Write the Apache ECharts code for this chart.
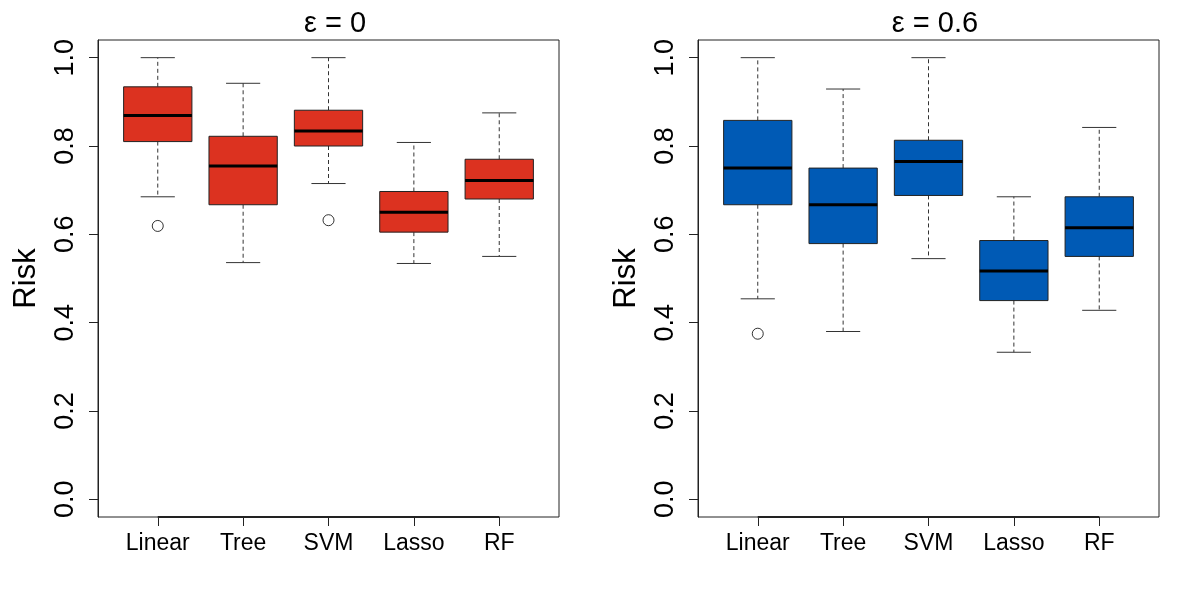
<!DOCTYPE html>
<html>
<head>
    <meta charset="utf-8">
    <title>Risk boxplots</title>
    <script src="https://cdn.jsdelivr.net/npm/echarts@6/dist/echarts.min.js"></script>
    <style>
        html, body { margin: 0; padding: 0; background: #fff; }
        #container { width: 1200px; height: 600px; }
    </style>
</head>
<body>
<div id="container"></div>
<script type="text/javascript">
    // categories and tick labels
    var categories = ['Linear', 'Tree', 'SVM', 'Lasso', 'RF'];
    var yTicks = [0, 0.2, 0.4, 0.6, 0.8, 1.0];
    var panelTitles = ['\u03b5 = 0', '\u03b5 = 0.6'];

    // box stats per method: [lower whisker, Q1, median, Q3, upper whisker]
    var eps0Stats = [
        [0.685, 0.810, 0.869, 0.934, 1.000],
        [0.536, 0.667, 0.755, 0.822, 0.942],
        [0.715, 0.800, 0.834, 0.881, 1.000],
        [0.534, 0.605, 0.650, 0.697, 0.808],
        [0.550, 0.680, 0.722, 0.770, 0.875]
    ];
    var eps06Stats = [
        [0.454, 0.667, 0.750, 0.858, 1.000],
        [0.380, 0.579, 0.667, 0.750, 0.929],
        [0.545, 0.688, 0.765, 0.813, 1.000],
        [0.333, 0.450, 0.517, 0.586, 0.685],
        [0.428, 0.550, 0.615, 0.685, 0.842]
    ];
    // outliers: [category index, value]
    var eps0Outliers = [[0, 0.619], [2, 0.632]];
    var eps06Outliers = [[0, 0.375]];

    var fillColors = ['#DC3220', '#005AB5'];
    var font = 'Liberation Sans, Helvetica, Arial, sans-serif';
    var yMin = -0.04, yMax = 1.04;

    function boxData(stats) {
        return stats.map(function (s, i) {
            return [i + 1].concat(s);
        });
    }
    function outlierData(list) {
        return list.map(function (o) { return [o[0] + 1, o[1]]; });
    }

    function makeRender(fill) {
        return function (params, api) {
            var x = api.value(0);
            var lo = api.value(1), q1 = api.value(2), med = api.value(3),
                q3 = api.value(4), hi = api.value(5);
            var half = 0.4, cap = 0.2;
            function p(a, b) { return api.coord([a, b]); }
            function seg(a, b, style) {
                return { type: 'line', shape: { x1: a[0], y1: a[1], x2: b[0], y2: b[1] }, style: style };
            }
            var dashed = { stroke: '#333', lineWidth: 1, lineDash: [4, 3] };
            var solid = { stroke: '#333', lineWidth: 1 };
            var tl = p(x - half, q3), br = p(x + half, q1);
            var children = [
                seg(p(x, q1), p(x, lo), dashed),
                seg(p(x, q3), p(x, hi), dashed),
                seg(p(x - cap, lo), p(x + cap, lo), solid),
                seg(p(x - cap, hi), p(x + cap, hi), solid),
                { type: 'rect', shape: { x: tl[0], y: tl[1], width: br[0] - tl[0], height: br[1] - tl[1] },
                  style: { fill: fill, stroke: '#222', lineWidth: 1 } },
                seg(p(x - half, med), p(x + half, med), { stroke: '#000', lineWidth: 3 })
            ];
            // R style axis line, drawn only between first and last tick
            if (params.dataIndex === 0) {
                children.push(seg(p(1, yMin), p(categories.length, yMin), { stroke: '#222', lineWidth: 2 }));
            }
            return { type: 'group', children: children };
        };
    }

    var grids = [
        { left: 98, right: 641, top: 40, bottom: 83 },
        { left: 698, right: 41, top: 40, bottom: 83 }
    ];
    var xCenters = [330, 930];

    var option = {
        animation: false,
        backgroundColor: '#fff',
        textStyle: { fontFamily: font },
        title: panelTitles.map(function (t, i) {
            return {
                text: t, left: xCenters[i], top: 4, textAlign: 'center',
                textStyle: { fontFamily: font, fontSize: 29, fontWeight: 'normal', color: '#000' }
            };
        }),
        grid: grids.map(function (g) {
            return { left: g.left, right: g.right, top: g.top, bottom: g.bottom,
                     show: true, borderColor: '#222', borderWidth: 1, backgroundColor: 'transparent' };
        }),
        xAxis: [0, 1].map(function (i) {
            return {
                type: 'value', gridIndex: i, min: 0.3, max: 5.7, position: 'bottom',
                axisLine: { show: false, onZero: false },
                splitLine: { show: false },
                axisTick: { show: true, length: 9, customValues: [1, 2, 3, 4, 5],
                            lineStyle: { color: '#222', width: 1 } },
                axisLabel: {
                    customValues: [1, 2, 3, 4, 5], margin: 15,
                    fontSize: 23, color: '#000', fontFamily: font,
                    formatter: function (v) { return categories[Math.round(v) - 1]; }
                }
            };
        }),
        yAxis: [0, 1].map(function (i) {
            return {
                type: 'value', gridIndex: i, min: yMin, max: yMax, position: 'left',
                name: 'Risk', nameLocation: 'middle', nameGap: 56, nameRotate: 90,
                nameTextStyle: { fontSize: 31, color: '#000', fontFamily: font },
                axisLine: { show: true, onZero: false, lineStyle: { color: '#222', width: 1 } },
                splitLine: { show: false },
                axisTick: { show: true, length: 9, customValues: yTicks,
                            lineStyle: { color: '#222', width: 1 } },
                axisLabel: {
                    customValues: yTicks, rotate: 90, margin: 19,
                    fontSize: 27, color: '#000', fontFamily: font,
                    formatter: function (v) { return v.toFixed(1); }
                }
            };
        }),
        series: [
            { type: 'custom', xAxisIndex: 0, yAxisIndex: 0, renderItem: makeRender(fillColors[0]),
              encode: { x: 0, y: [1, 2, 3, 4, 5] }, data: boxData(eps0Stats), clip: false },
            { type: 'custom', xAxisIndex: 1, yAxisIndex: 1, renderItem: makeRender(fillColors[1]),
              encode: { x: 0, y: [1, 2, 3, 4, 5] }, data: boxData(eps06Stats), clip: false },
            { type: 'scatter', xAxisIndex: 0, yAxisIndex: 0, symbol: 'circle', symbolSize: 11,
              itemStyle: { color: '#fff', borderColor: '#000', borderWidth: 1 },
              data: outlierData(eps0Outliers) },
            { type: 'scatter', xAxisIndex: 1, yAxisIndex: 1, symbol: 'circle', symbolSize: 11,
              itemStyle: { color: '#fff', borderColor: '#000', borderWidth: 1 },
              data: outlierData(eps06Outliers) }
        ]
    };

    var myChart = echarts.init(document.getElementById('container'));
    myChart.setOption(option);
</script>
</body>
</html>
